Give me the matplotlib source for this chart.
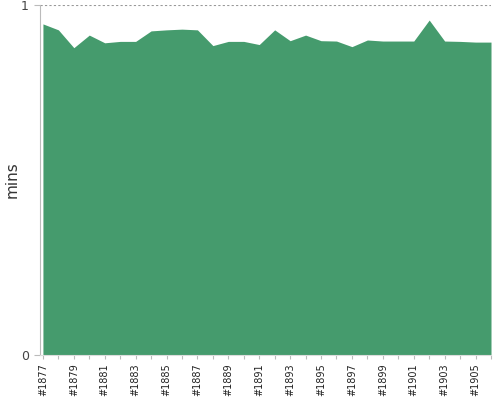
import matplotlib
matplotlib.use("Agg")
import matplotlib.pyplot as plt
import numpy as np

categories = ["#%d" % y for y in range(1877, 1907)]
values = [0.946, 0.929, 0.878, 0.914, 0.892, 0.896, 0.896, 0.926, 0.929, 0.931,
          0.929, 0.884, 0.896, 0.896, 0.887, 0.929, 0.898, 0.914, 0.898, 0.897,
          0.881, 0.900, 0.897, 0.897, 0.897, 0.957, 0.897, 0.896, 0.894, 0.894]

fig = plt.figure(figsize=(5, 4), dpi=100)
ax = fig.add_axes([0.08, 0.1125, 0.902, 0.875])
x = np.arange(len(categories))
ax.fill_between(x, 0, values, color="#459B6D", linewidth=0)
ax.set_xlim(-0.19, 28.9)
ax.set_ylim(0, 1)

ax.set_yticks([0, 1])
ax.set_yticklabels(["0", "1"], fontsize=9, color="#444444")
ax.axhline(1, color="#999999", linestyle=(0, (2, 2)), linewidth=0.8)
ax.set_xticks(x)
ax.set_xticklabels([c if i % 2 == 0 else "" for i, c in enumerate(categories)],
                   rotation=90, fontsize=7, color="#222222")
ax.tick_params(axis="x", length=3, color="#bbbbbb", pad=3)
ax.tick_params(axis="y", length=4, color="#bbbbbb", pad=4)
for s in ["top", "right"]:
    ax.spines[s].set_visible(False)
ax.spines["left"].set_color("#bbbbbb")
ax.spines["bottom"].set_color("#dddddd")
ax.set_ylabel("mins", fontsize=11, color="#333333")
ax.yaxis.set_label_coords(-0.046, 0.5)

fig.savefig("out.png", dpi=100)
